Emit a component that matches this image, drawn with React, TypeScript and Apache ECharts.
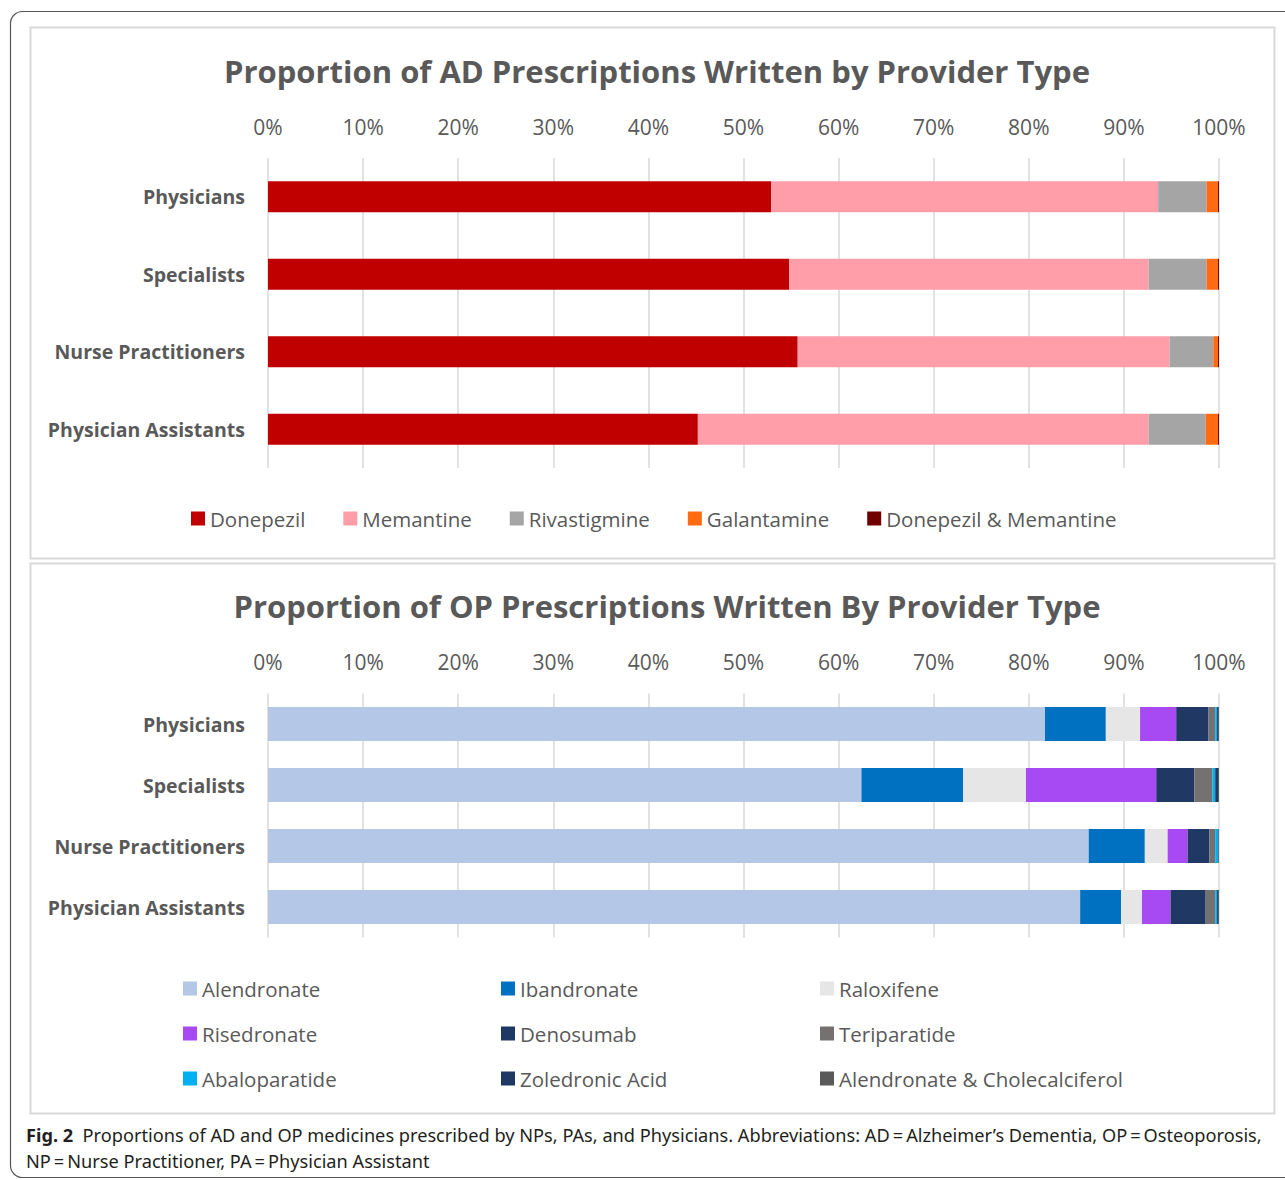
import React, { useEffect, useRef } from "react";
import * as echarts from "echarts";

const providers = ["Physicians", "Specialists", "Nurse Practitioners", "Physician Assistants"];
const pctTicks = "{value}%";

// AD prescriptions (% of each provider type)
const adNames = ["Donepezil", "Memantine", "Rivastigmine", "Galantamine", "Donepezil & Memantine"];
const donepezil = [52.9, 54.8, 55.7, 45.2];
const memantine = [40.7, 37.8, 39.1, 47.4];
const rivastigmine = [5.1, 6.1, 4.6, 6.0];
const galantamine = [1.2, 1.2, 0.5, 1.3];
const donepezilMemantine = [0.1, 0.1, 0.1, 0.1];
const adColors = ["#C00000", "#FF9EA8", "#A5A5A5", "#FF6A13", "#700000"];

// OP prescriptions (% of each provider type)
const opNames = [
  "Alendronate", "Ibandronate", "Raloxifene", "Risedronate", "Denosumab",
  "Teriparatide", "Abaloparatide", "Zoledronic Acid", "Alendronate & Cholecalciferol",
];
const alendronate = [81.7, 62.4, 86.3, 85.4];
const ibandronate = [6.4, 10.7, 5.9, 4.3];
const raloxifene = [3.6, 6.6, 2.4, 2.2];
const risedronate = [3.8, 13.7, 2.1, 3.0];
const denosumab = [3.4, 4.0, 2.3, 3.7];
const teriparatide = [0.7, 1.9, 0.6, 1.0];
const abaloparatide = [0.2, 0.3, 0.3, 0.2];
const zoledronicAcid = [0.1, 0.3, 0.05, 0.1];
const alendronateChole = [0.1, 0.1, 0.05, 0.1];
const opColors = ["#B4C7E7", "#0070C0", "#E7E6E6", "#A74AF4", "#203864", "#767171", "#00B0F0", "#1F3864", "#595959"];

const adData = [donepezil, memantine, rivastigmine, galantamine, donepezilMemantine];
const opData = [alendronate, ibandronate, raloxifene, risedronate, denosumab, teriparatide, abaloparatide, zoledronicAcid, alendronateChole];

const FONT = "'Open Sans', 'Noto Sans', sans-serif";
const CAP_FONT = "'Liberation Sans Narrow', 'Noto Sans', sans-serif";
const GRAY = "#595959";

export default function App() {
  const ref = useRef<HTMLDivElement>(null);
  useEffect(() => {
    if (!ref.current) return;
    const chart = echarts.init(ref.current, null, { renderer: "svg" });

    const xAxisBase = {
      type: "value",
      position: "top",
      min: 0,
      max: 100,
      interval: 10,
      axisLabel: { formatter: pctTicks, color: GRAY, fontSize: 21, fontFamily: FONT, margin: 21 },
      axisLine: { show: false },
      axisTick: { show: false },
      splitLine: { show: true, lineStyle: { color: "#D9D9D9", width: 1.5 } },
    };
    const yAxisBase = {
      type: "category",
      data: providers,
      inverse: true,
      axisLine: { show: false },
      axisTick: { show: false },
      axisLabel: { color: GRAY, fontSize: 19.5, fontWeight: "bold", fontFamily: FONT, margin: 23 },
    };

    const series: any[] = [];
    adNames.forEach((n, i) =>
      series.push({
        name: n, type: "bar", stack: "ad", xAxisIndex: 0, yAxisIndex: 0,
        barWidth: 31, data: adData[i], itemStyle: { color: adColors[i] },
      })
    );
    opNames.forEach((n, i) =>
      series.push({
        name: n, type: "bar", stack: "op", xAxisIndex: 1, yAxisIndex: 1,
        barWidth: 34, data: opData[i], itemStyle: { color: opColors[i] },
      })
    );

    const legendText = { color: GRAY, fontSize: 20.5, fontFamily: FONT };
    const vLegend = (left: number, data: string[]) => ({
      orient: "vertical", left, top: 973, itemWidth: 14, itemHeight: 14, itemGap: 24,
      icon: "rect", data, textStyle: legendText, selectedMode: false,
    });

    chart.setOption({
      animation: false,
      backgroundColor: "#ffffff",
      title: [
        {
          text: "Proportion of AD Prescriptions Written by Provider Type",
          left: 652, top: 50, textAlign: "center",
          textStyle: { color: GRAY, fontSize: 31, fontWeight: "bold", fontFamily: FONT },
        },
        {
          text: "Proportion of OP Prescriptions Written By Provider Type",
          left: 662, top: 585, textAlign: "center",
          textStyle: { color: GRAY, fontSize: 31, fontWeight: "bold", fontFamily: FONT },
        },
        {
          text: "{b|Fig. 2}{n|  Proportions of AD and OP medicines prescribed by NPs, PAs, and Physicians. Abbreviations: AD\u2009=\u2009Alzheimer’s Dementia, OP\u2009=\u2009Osteoporosis,}\n{n|NP\u2009=\u2009Nurse Practitioner, PA\u2009=\u2009Physician Assistant}",
          left: 21, top: 1117,
          textStyle: {
            fontWeight: "normal",
            rich: {
              b: { fontWeight: "bold", fontSize: 18.2, color: "#231F20", fontFamily: CAP_FONT, lineHeight: 26 },
              n: { fontWeight: "normal", fontSize: 18.2, color: "#231F20", fontFamily: CAP_FONT, lineHeight: 26 },
            },
          },
        },
      ],
      graphic: [
        { type: "rect", shape: { x: 10.5, y: 11.5, width: 1300, height: 1166, r: 12 }, style: { fill: "none", stroke: "#555555", lineWidth: 1.2 }, z: -10 },
        { type: "rect", shape: { x: 30.5, y: 27.5, width: 1244, height: 531 }, style: { fill: "none", stroke: "#D9D9D9", lineWidth: 2 }, z: -10 },
        { type: "rect", shape: { x: 30.5, y: 563.5, width: 1244, height: 550 }, style: { fill: "none", stroke: "#D9D9D9", lineWidth: 2 }, z: -10 },
      ],
      legend: [
        {
          orient: "horizontal", left: 186, top: 503, itemWidth: 14, itemHeight: 14, itemGap: 38,
          icon: "rect", data: adNames, textStyle: legendText, selectedMode: false,
        },
        vLegend(178, ["Alendronate", "Risedronate", "Abaloparatide"]),
        vLegend(496, ["Ibandronate", "Denosumab", "Zoledronic Acid"]),
        vLegend(815, ["Raloxifene", "Teriparatide", "Alendronate & Cholecalciferol"]),
      ],
      grid: [
        { left: 268, right: 66, top: 158, height: 310 },
        { left: 268, right: 66, top: 693.5, height: 244 },
      ],
      xAxis: [
        { ...xAxisBase, gridIndex: 0 },
        { ...xAxisBase, gridIndex: 1 },
      ],
      yAxis: [
        { ...yAxisBase, gridIndex: 0 },
        { ...yAxisBase, gridIndex: 1 },
      ],
      series,
    });
    return () => chart.dispose();
  }, []);
  return (
    <div
      ref={ref}
      style={{ position: "absolute", left: 0, top: 0, width: 1285, height: 1180 }}
    />
  );
}
